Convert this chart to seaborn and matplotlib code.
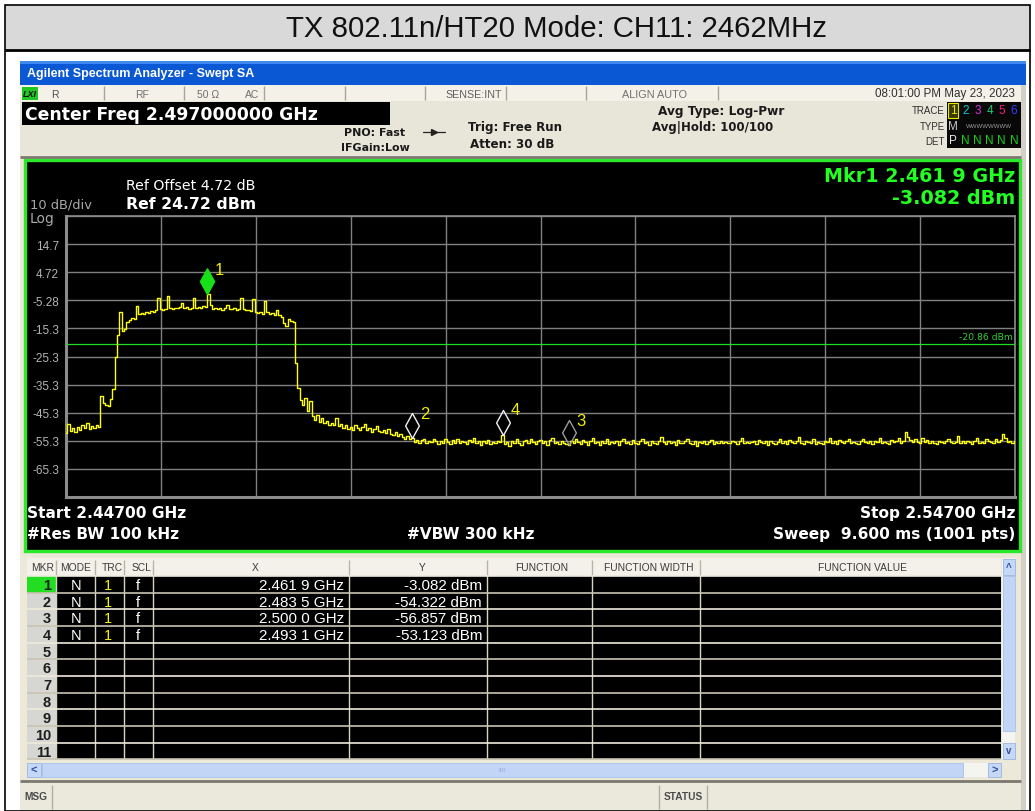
import numpy as np
import pandas as pd
import matplotlib
matplotlib.use("Agg")
import matplotlib.pyplot as plt
from matplotlib.patches import Rectangle
from matplotlib.path import Path
import seaborn as sns

# ---------------- instrument settings ----------------
START_MHZ = 2447.0
STOP_MHZ = 2547.0
REF_LEVEL = 24.72
DB_PER_DIV = 10.0
LIMIT_DBM = -20.86

# Trace 1 (Log-Pwr average), one reading every 0.25 MHz from start to stop
trace_dbm = [
    -52.6, -49.4, -51.8, -50.9, -52.1, -50.2, -51.4, -49.6, -50.8, -48.9,
    -51.2, -50.1, -50.7, -49.8, -50.3, -39.2, -41.8, -42.6, -42.9, -40.5,
    -37.0, -25.5, -17.5, -9.3, -16.2, -15.4, -13.0, -12.4, -11.6, -11.8,
    -7.4, -10.2, -9.8, -10.1, -9.5, -9.9, -9.2, -9.6, -8.8, -4.6,
    -8.3, -8.6, -8.2, -3.9, -8.0, -8.4, -7.9, -8.1, -7.6, -6.2,
    -8.0, -7.7, -8.3, -7.9, -4.3, -8.1, -7.6, -7.9, -7.2, -7.5,
    -3.1, -7.0, -8.2, -8.0, -8.4, -7.9, -8.6, -8.1, -6.9, -8.3,
    -8.5, -8.0, -8.6, -8.4, -4.3, -8.5, -8.9, -8.6, -9.1, -4.8,
    -9.4, -9.8, -9.3, -10.0, -5.5, -9.6, -10.1, -9.8, -10.4, -8.8,
    -10.6, -11.3, -13.2, -14.5, -12.0, -12.6, -13.0, -27.5, -36.5, -40.8,
    -42.5, -40.2, -44.8, -41.0, -46.3, -47.8, -46.0, -48.5, -47.1, -49.0,
    -48.2, -49.5, -48.8, -49.6, -47.0, -50.1, -49.3, -50.6, -49.8, -51.0,
    -50.2, -51.3, -49.5, -50.8, -51.6, -50.4, -49.2, -51.5, -50.9, -52.0,
    -51.2, -50.0, -51.8, -52.3, -51.4, -52.6, -51.0, -52.9, -53.3, -52.1,
    -53.6, -52.8, -53.9, -54.5, -53.5, -54.8, -54.3, -55.6, -54.9, -56.2,
    -55.1, -54.6, -56.0, -55.3, -55.8, -54.7, -55.5, -56.3, -55.2, -55.9,
    -54.8, -55.7, -56.4, -55.1, -55.9, -54.6, -56.2, -55.4, -55.8, -56.5,
    -55.0, -55.6, -54.2, -56.1, -55.3, -56.8, -55.5, -55.9, -54.9, -56.3,
    -55.6, -56.0, -55.2, -55.8, -53.1, -56.4, -55.7, -57.1, -55.3, -56.0,
    -54.5, -55.9, -56.6, -55.4, -55.0, -56.2, -54.7, -55.8, -56.5, -55.2,
    -54.9, -56.1, -55.5, -56.7, -55.0, -54.3, -56.0, -55.6, -56.3, -55.4,
    -55.9, -56.4, -56.9, -55.3, -56.0, -54.6, -55.7, -56.5, -55.1, -55.8,
    -56.6, -55.4, -54.4, -56.2, -55.6, -56.9, -55.3, -55.9, -54.8, -56.3,
    -55.7, -56.1, -55.2, -56.6, -55.5, -54.5, -56.0, -55.8, -56.4, -55.1,
    -55.9, -56.5, -55.4, -54.7, -56.2, -55.6, -56.8, -55.2, -55.9, -56.3,
    -55.5, -54.1, -55.8, -56.4, -55.3, -56.0, -55.7, -56.6, -55.1, -55.9,
    -56.2, -55.4, -54.6, -55.9, -56.5, -55.2, -57.2, -55.7, -56.1, -55.5,
    -56.3, -55.8, -55.1, -56.4, -55.6, -56.0, -55.3, -56.2, -55.7, -55.9,
    -56.1, -55.4, -55.8, -56.3, -55.5, -54.2, -56.0, -55.6, -56.2, -55.8,
    -55.3, -56.4, -54.9, -55.7, -56.1, -55.5, -56.6, -55.2, -55.9, -56.3,
    -55.6, -54.5, -56.0, -55.4, -56.5, -55.1, -55.8, -56.2, -55.5, -54.0,
    -55.9, -56.4, -55.3, -55.7, -56.1, -54.8, -56.3, -55.6, -55.9, -56.5,
    -55.2, -55.8, -54.3, -56.0, -55.5, -56.4, -55.1, -55.7, -56.2, -55.4,
    -54.7, -56.1, -55.6, -55.9, -56.3, -55.2, -54.5, -55.8, -56.0, -55.5,
    -56.4, -55.3, -55.7, -54.2, -56.1, -55.6, -55.9, -56.5, -55.0, -55.8,
    -55.4, -54.4, -56.0, -55.5, -52.3, -54.0, -54.9, -55.6, -54.6, -55.8,
    -56.2, -54.3, -55.7, -55.1, -56.0, -55.4, -55.9, -56.3, -55.5, -55.8,
    -56.1, -55.3, -54.8, -55.7, -56.2, -55.6, -53.5, -55.9, -55.4, -56.0,
    -55.2, -55.8, -56.4, -55.5, -54.4, -55.9, -55.6, -56.1, -54.6, -55.3,
    -55.8, -56.2, -54.5, -55.6, -55.0, -52.8, -54.2, -55.7, -55.4, -56.0,
    -55.5,
]

# Marker table
marker_ids = [1, 2, 3, 4]
marker_freq_ghz = [2.4619, 2.4835, 2.5000, 2.4931]
marker_dbm = [-3.082, -54.322, -56.857, -53.123]
marker_x_text = ["2.461 9 GHz", "2.483 5 GHz", "2.500 0 GHz", "2.493 1 GHz"]
marker_y_text = ["-3.082 dBm", "-54.322 dBm", "-56.857 dBm", "-53.123 dBm"]

ytick_labels = ["14.7", "4.72", "-5.28", "-15.3", "-25.3", "-35.3", "-45.3", "-55.3", "-65.3"]

table_headers = ["MKR", "MODE", "TRC", "SCL", "X", "Y", "FUNCTION", "FUNCTION WIDTH", "FUNCTION VALUE"]
trace_colors = ["#e8e800", "#10c8d0", "#d830d8", "#20c878", "#f0207a", "#3a3aff"]

# ---------------- figure ----------------
sns.set_theme(style="dark")
SANS = ["Liberation Sans", "DejaVu Sans"]
WIDE = ["DejaVu Sans"]
plt.rcParams["font.family"] = SANS

W, H = 1035, 812
fig = plt.figure(figsize=(W / 100, H / 100), dpi=100)
ui = fig.add_axes([0, 0, 1, 1], zorder=0)
ui.set_xlim(0, W)
ui.set_ylim(H, 0)
ui.axis("off")


def box(x0, y0, x1, y1, fc, ec="none", lw=0.0, z=1):
    ui.add_patch(Rectangle((x0, y0), x1 - x0, y1 - y0, facecolor=fc,
                           edgecolor=ec, linewidth=lw, zorder=z))


def hline(y, x0, x1, color, lw=1.0, z=2):
    ui.plot([x0, x1], [y, y], color=color, lw=lw, zorder=z, solid_capstyle="butt")


def vline(x, y0, y1, color, lw=1.0, z=2):
    ui.plot([x, x], [y0, y1], color=color, lw=lw, zorder=z, solid_capstyle="butt")


def label(x, y, s, size, color="black", ha="left", weight="normal", z=5, **kw):
    ui.text(x, y, s, fontsize=size, color=color, ha=ha, va="center",
            fontweight=weight, zorder=z, **kw)


# page frame and caption band
box(0, 0, W, H, "white", z=0)
box(5, 6, 1030, 50, "#d9d9d9")
ui.add_patch(Rectangle((5, 6), 1025, 806, facecolor="none", edgecolor="black", lw=1.2, zorder=3))
hline(51, 5, 1030, "black", lw=2.0, z=3)
label(557, 29, "TX 802.11n/HT20 Mode: CH11: 2462MHz", 21.2, "#111111", ha="center")

# application window
box(20, 62, 1026, 812, "#ece9d8")
box(20, 62, 1026, 86, "#0a58d4")
box(20, 62, 1026, 65, "#3f8af0")
label(27, 74.5, "Agilent Spectrum Analyzer - Swept SA", 9.0, "white", weight="bold")
box(1021, 86, 1026, 812, "#d4d0c8")

# status row
box(20, 86, 1021, 102, "#f3f1e8")
for sx in [104, 184, 264, 345, 425, 506, 586, 718]:
    vline(sx, 87, 101, "#a8a498")
box(22, 88, 38, 101, "#22c622")
label(23, 94.5, "LXI", 6.5, "#101010", weight="bold", style="italic")
label(51, 94.5, "R", 7.5, "#505050")
label(142, 94.5, "RF", 7.5, "#707070", ha="center")
label(197, 94.5, "50 Ω", 7.5, "#707070")
label(245, 94.5, "AC", 7.5, "#707070")
label(474, 94.5, "SENSE:INT", 7.7, "#606060", ha="center")
label(655, 94.5, "ALIGN AUTO", 7.8, "#707070", ha="center")
label(1015, 94.5, "08:01:00 PM May 23, 2023", 8.4, "#303030", ha="right")

# settings area
box(20, 102, 1021, 156, "#e8e5d9")
box(22, 103, 390, 126, "black")
label(25, 114.5, "Center Freq 2.497000000 GHz", 12.4, "white", weight="bold", family=WIDE)
label(375, 133, "PNO: Fast", 7.9, "#1a1a1a", ha="center", weight="bold", family=WIDE)
label(375, 148, "IFGain:Low", 7.9, "#1a1a1a", ha="center", weight="bold", family=WIDE)
ui.plot([423, 445], [133, 133], color="#222222", lw=0.9, zorder=4)
ui.plot([434], [133], marker=">", ms=4, color="#222222", zorder=4)
label(468, 128, "Trig: Free Run", 8.6, "#1a1a1a", weight="bold", family=WIDE)
label(470, 145, "Atten: 30 dB", 8.6, "#1a1a1a", weight="bold", family=WIDE)
label(721, 111.5, "Avg Type: Log-Pwr", 8.7, "#1a1a1a", ha="center", weight="bold", family=WIDE)
label(652, 128, "Avg|Hold: 100/100", 8.5, "#1a1a1a", weight="bold", family=WIDE)
label(945, 111, "TRACE", 7.0, "#303030", ha="right")
label(945, 127, "TYPE", 7.0, "#303030", ha="right")
label(945, 142, "DET", 7.0, "#303030", ha="right")
box(947, 103, 1021, 149, "#080808")
box(948, 104, 958, 119, "#3a3a00", ec="#e8e800", lw=0.8, z=2)
for k, c in enumerate(trace_colors):
    label(953 + 12.2 * k, 111.5, str(k + 1), 8.5, c, ha="center")
label(953, 127, "M", 8.5, "#c8c8c8", ha="center")
label(989, 126, "WWWWWWWW", 4.4, "#9a9a9a", ha="center")
label(953, 141.5, "P", 8.5, "#e8e8e8", ha="center")
for k in range(1, 6):
    label(953 + 12.2 * k, 141.5, "N", 8.5, "#18d018", ha="center")
hline(157.5, 20, 1021, "#7a7870", lw=2.0)

# graph panel
box(25, 161, 1020, 552, "black", ec="#2be82b", lw=2.4, z=1)
label(30, 205, "10 dB/div", 9.4, "#a8a8a8", family=WIDE)
label(30, 219.5, "Log", 10.0, "#a8a8a8", family=WIDE)
label(126, 186, "Ref Offset 4.72 dB", 10.2, "white", family=WIDE)
label(126, 204.5, "Ref 24.72 dBm", 11.3, "white", weight="bold", family=WIDE)
label(1015, 177, "Mkr1 2.461 9 GHz", 13.8, "#22ff22", ha="right", weight="bold", family=WIDE)
label(1015, 198.5, "-3.082 dBm", 13.8, "#22ff22", ha="right", weight="bold", family=WIDE)
label(27, 513.5, "Start 2.44700 GHz", 11.1, "white", weight="bold", family=WIDE)
label(27, 535, "#Res BW 100 kHz", 11.1, "white", weight="bold", family=WIDE)
label(407, 535, "#VBW 300 kHz", 11.1, "white", weight="bold", family=WIDE)
label(1015, 513.5, "Stop 2.54700 GHz", 11.1, "white", ha="right", weight="bold", family=WIDE)
label(1015, 535, "Sweep  9.600 ms (1001 pts)", 11.1, "white", ha="right", weight="bold", family=WIDE)

# ---------------- trace display ----------------
left, right, top, bottom = 66, 1015, 217, 498
ax = fig.add_axes([left / W, 1 - bottom / H, (right - left) / W, (bottom - top) / H], zorder=2)
ax.set_facecolor("black")

freqs = np.linspace(START_MHZ, STOP_MHZ, len(trace_dbm))
df = pd.DataFrame({"freq": freqs, "level": trace_dbm})
sns.lineplot(data=df, x="freq", y="level", ax=ax, color="#ffff00", lw=1.0,
             drawstyle="steps-mid", estimator=None, sort=False, zorder=4)

ax.set_xlim(START_MHZ, STOP_MHZ)
ax.set_ylim(REF_LEVEL - 10 * DB_PER_DIV, REF_LEVEL)
ax.set_xticks(np.linspace(START_MHZ, STOP_MHZ, 11))
ax.set_xticklabels([])
ax.set_yticks([REF_LEVEL - DB_PER_DIV * k for k in range(11)])
ax.set_yticklabels([""] + ytick_labels + [""])
ax.tick_params(axis="both", length=0)
ax.tick_params(axis="y", colors="#b4b4b4", labelsize=8.5, pad=5)
ax.grid(True, color="#808080", lw=1.0)
ax.set_xlabel("")
ax.set_ylabel("")
for name, sp in ax.spines.items():
    sp.set_visible(True)
    sp.set_color("#8c8c8c")
    sp.set_linewidth(2.2 if name in ("left", "bottom") else 1.2)

# display line
ax.axhline(LIMIT_DBM, color="#22dd22", lw=0.9, zorder=3)
ax.annotate("-20.86 dBm", xy=(0.998, LIMIT_DBM), xycoords=("axes fraction", "data"),
            xytext=(0, 2), textcoords="offset points", ha="right", va="bottom",
            fontsize=6.7, color="#33cc33", family=WIDE)

# markers: tall diamonds with the lower tip on the trace
diamond = Path([(0, 0), (0.55, 1), (0, 2), (-0.55, 1), (0, 0)],
               [Path.MOVETO, Path.LINETO, Path.LINETO, Path.LINETO, Path.CLOSEPOLY])
for mid, fg, lv in zip(marker_ids, marker_freq_ghz, marker_dbm):
    fx = fg * 1000
    if mid == 1:
        ax.plot([fx], [lv], marker=diamond, ms=37, mfc="#18e018", mec="#18e018",
                ls="none", zorder=6)
    else:
        ec = "#9c9c9c" if mid == 3 else "#f0f0f0"
        ax.plot([fx], [lv], marker=diamond, ms=36, mfc="none", mec=ec, mew=1.0,
                ls="none", zorder=6)
    ax.annotate(str(mid), xy=(fx, lv), xytext=(8.8, 18), textcoords="offset points",
                ha="center", va="center", fontsize=12, color="#f0f000", zorder=7)

# ---------------- marker table ----------------
col_x = [27, 56, 95, 124, 153, 349, 487, 592, 700, 1001]
head_top, head_bot = 559, 577
row_h = 16.67
n_rows = 11
rows_bot = head_bot + row_h * n_rows

box(27, head_top, 1001, head_bot, "#f3f1e9", z=1)
box(27, head_bot, 56, rows_bot, "#d6d6d2", z=1)
box(56, head_bot, 1001, rows_bot, "black", z=1)
box(27, head_bot, 56, head_bot + row_h, "#22dd22", z=2)
for cx in col_x[1:-1]:
    vline(cx, head_top + 2, head_bot, "#b8b4a8", lw=1.0)
    vline(cx, head_bot, rows_bot, "#d8d4c4", lw=1.0)
for r in range(n_rows + 1):
    hline(head_bot + row_h * r, 27, 1001, "#c8c4b4" if r % 2 else "#eeeadc", lw=1.2)

header_pos = [(31, "left"), (76, "center"), (112, "center"), (142, "center"),
              (255, "center"), (422, "center"), (542, "center"), (649, "center"),
              (862, "center")]
for (hx, ha), txt in zip(header_pos, table_headers):
    label(hx, 568, txt, 7.4, "#3c3c3c", ha=ha)

for r in range(n_rows):
    yc = head_bot + row_h * (r + 0.5)
    label(51, yc + 0.5, str(r + 1), 10.5, "#1e1e1e", ha="right", weight="bold", z=6)

for r, (mid, xt, yt) in enumerate(zip(marker_ids, marker_x_text, marker_y_text)):
    yc = head_bot + row_h * (r + 0.5) + 0.5
    label(76, yc, "N", 10.5, "white", ha="center", z=6)
    label(108, yc, "1", 10.5, "#f4f400", ha="center", z=6)
    label(138, yc, "f", 10.5, "white", ha="center", z=6)
    label(344, yc, xt, 10.9, "white", ha="right", z=6)
    label(482, yc, yt, 10.9, "white", ha="right", z=6)

# scroll bars
box(1002, head_top, 1015, rows_bot, "#f4f4f0", z=1)
box(1003, head_top + 1, 1015, head_top + 17, "#c6d8f8", ec="#9ab4e0", lw=0.6, z=2)
box(1003, head_top + 18, 1015, 732, "#c2d5f7", ec="#a8c0ea", lw=0.6, z=2)
box(1003, rows_bot - 16, 1015, rows_bot, "#c6d8f8", ec="#9ab4e0", lw=0.6, z=2)
label(1009, head_top + 9, "^", 7, "#3050a0", ha="center", weight="bold")
label(1009, rows_bot - 9, "v", 7, "#3050a0", ha="center", weight="bold")
box(27, 764, 1001, 778, "#f4f4f0", z=1)
box(27, 764, 41, 778, "#c6d8f8", ec="#9ab4e0", lw=0.6, z=2)
box(42, 764, 963, 778, "#c2d5f7", ec="#a8c0ea", lw=0.6, z=2)
box(988, 764, 1001, 778, "#c6d8f8", ec="#9ab4e0", lw=0.6, z=2)
label(34, 771, "<", 8, "#3050a0", ha="center", weight="bold")
label(994.5, 771, ">", 8, "#3050a0", ha="center", weight="bold")
label(502, 771, "IIII", 4.5, "#8aa6d8", ha="center")

# message / status bar
hline(781.5, 20, 1021, "#7a7870", lw=2.0)
box(20, 783, 1021, 812, "#ebe8dc")
vline(52, 786, 810, "#b0aca0")
vline(659, 786, 810, "#b0aca0")
vline(707, 786, 810, "#b0aca0")
label(24, 797, "MSG", 7.3, "#4a4a4a", weight="bold")
label(683, 797, "STATUS", 7.3, "#4a4a4a", ha="center", weight="bold")

fig.savefig("out.png", dpi=100, facecolor="white")
